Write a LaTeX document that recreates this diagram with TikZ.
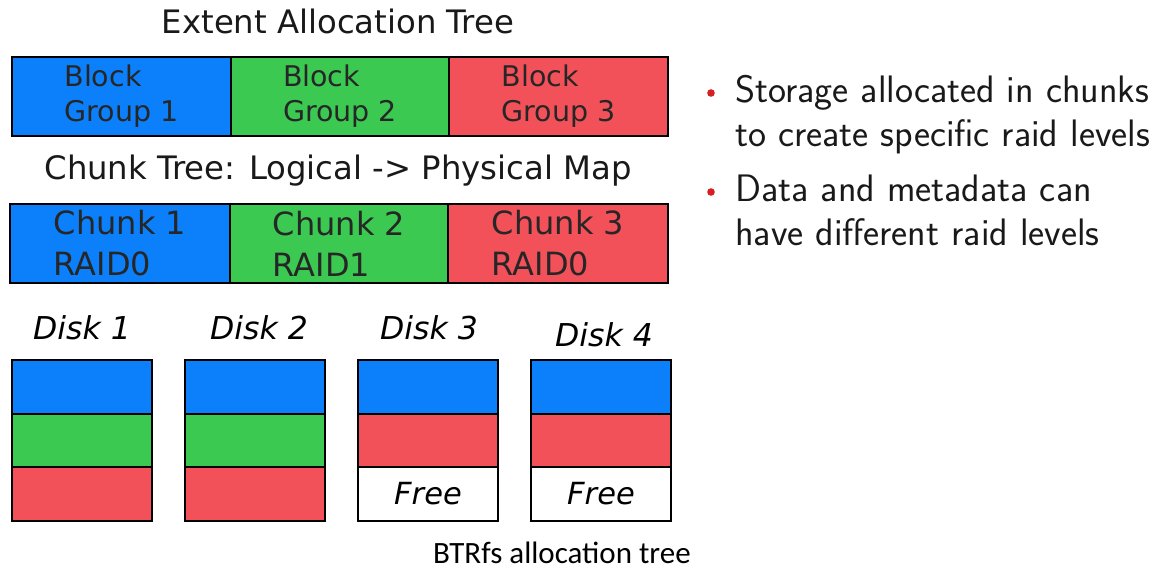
\documentclass[tikz,border=0pt]{standalone}
\usepackage{fontspec}
\setmainfont{DejaVu Sans}
\newfontfamily\capfont{Carlito}
\usepackage{tikz}
\usetikzlibrary{positioning}
\definecolor{BlockBlue}{RGB}{12,128,250}
\definecolor{BlockGreen}{RGB}{60,201,82}
\definecolor{BlockRed}{RGB}{243,81,90}
\definecolor{BulletRed}{RGB}{214,30,36}
\definecolor{TextGrey}{RGB}{25,25,25}

\tikzset{
  part/.style={draw=black,line width=2pt,inner sep=0pt,outer sep=0pt,
    minimum height=79pt,align=left,text=black!85,
    font=\fontsize{28.5}{35}\selectfont},
  chunkpart/.style={part,font=\fontsize{32}{41}\selectfont},
  slice/.style={draw=black,line width=2.4pt,inner sep=0pt,outer sep=0pt,
    minimum width=140pt,minimum height=53.5pt,
    font=\itshape\fontsize{30.5}{36}\selectfont},
  disklabel/.style={anchor=base,inner sep=0pt,
    font=\itshape\fontsize{31.5}{36}\selectfont},
  headline/.style={anchor=base,inner sep=0pt,text=TextGrey,
    font=\fontsize{32.3}{36}\selectfont},
  point/.style={anchor=base west,inner sep=0pt,text=TextGrey,
    font=\sffamily\fontsize{38.3}{44}\selectfont},
}

\begin{document}
\begin{tikzpicture}[x=1pt,y=-1pt]
  \useasboundingbox[fill=white] (0,0) rectangle (1162,569);

  % extent allocation tree
  \node[headline] (extent) at (338,34) {Extent Allocation Tree};
  \node[part,fill=BlockBlue,minimum width=219pt] (bg1) at (121.5,96.5) {Block\\Group 1};
  \node[part,fill=BlockGreen,minimum width=218pt,right=0pt of bg1] (bg2) {Block\\Group 2};
  \node[part,fill=BlockRed,minimum width=219pt,right=0pt of bg2] (bg3) {Block\\Group 3};

  % chunk tree
  \node[headline] (chunktree) at (338,180) {Chunk Tree: Logical -> Physical Map};
  \node[chunkpart,fill=BlockBlue,minimum width=220pt] (ch1) at (120,243.5) {Chunk 1\\RAID0};
  \node[chunkpart,fill=BlockGreen,minimum width=218pt,right=0pt of ch1] (ch2) {Chunk 2\\RAID1};
  \node[chunkpart,fill=BlockRed,minimum width=220pt,right=0pt of ch2] (ch3) {Chunk 3\\RAID0};

  % disks
  \node[disklabel] (lbl1) at (82,340) {Disk 1};
  \node[disklabel] (lbl2) at (259,340) {Disk 2};
  \node[disklabel] (lbl3) at (429,340) {Disk 3};
  \node[disklabel] (lbl4) at (604,346) {Disk 4};

  \node[slice,fill=BlockBlue] (d1a) at (82,387) {};
  \node[slice,fill=BlockGreen,below=0pt of d1a] (d1b) {};
  \node[slice,fill=BlockRed,below=0pt of d1b] (d1c) {};

  \node[slice,fill=BlockBlue] (d2a) at (255,387) {};
  \node[slice,fill=BlockGreen,below=0pt of d2a] (d2b) {};
  \node[slice,fill=BlockRed,below=0pt of d2b] (d2c) {};

  \node[slice,fill=BlockBlue] (d3a) at (428,387) {};
  \node[slice,fill=BlockRed,below=0pt of d3a] (d3b) {};
  \node[slice,fill=white,below=0pt of d3b] (d3c) {Free};

  \node[slice,fill=BlockBlue] (d4a) at (601,387) {};
  \node[slice,fill=BlockRed,below=0pt of d4a] (d4b) {};
  \node[slice,fill=white,below=0pt of d4b] (d4c) {Free};

  % bullet points
  \fill[BulletRed] (711,93) circle (3.8pt);
  \node[point] (p1a) at (735,103) {Storage allocated in chunks};
  \node[point] (p1b) at (735,147) {to create specific raid levels};
  \fill[BulletRed] (711,192) circle (3.8pt);
  \node[point] (p2a) at (735,202) {Data and metadata can};
  \node[point] (p2b) at (735,246) {have different raid levels};

  \node[anchor=base,inner sep=0pt,font=\capfont\fontsize{31}{36}\selectfont]
    (caption) at (562,563) {BTRfs allocation tree};
\end{tikzpicture}
\end{document}
